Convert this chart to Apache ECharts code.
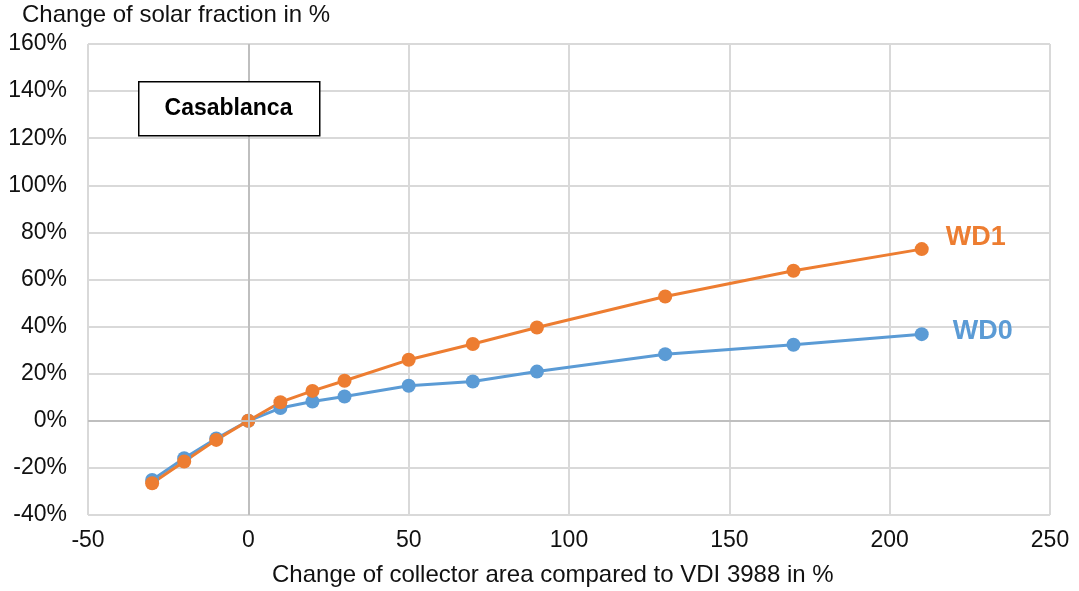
<!DOCTYPE html>
<html>
<head>
    <meta charset="utf-8" />
    <title>Casablanca</title>
    <script src="https://cdn.jsdelivr.net/npm/echarts@6/dist/echarts.min.js"></script>
    <style>
        html, body { margin: 0; padding: 0; background: #fff; }
    </style>
</head>
<body>
    <div id="main" style="width:1079px;height:591px;"></div>
    <script type="text/javascript">
        // collector area change in % (x)
        var areaChange = [-30, -20, -10, 0, 10, 20, 30, 50, 70, 90, 130, 170, 210];
        // solar fraction change in %
        var wd0 = [-25.1, -15.9, -7.5, 0, 5.4, 8.2, 10.3, 14.9, 16.7, 20.9, 28.3, 32.3, 36.8];
        var wd1 = [-26.5, -17.3, -8.1, 0, 7.9, 12.7, 17.0, 25.9, 32.6, 39.6, 52.8, 63.7, 72.9];
        var seriesNames = ['WD0', 'WD1'];
        var colors = ['#5B9BD5', '#ED7D31'];

        function pairs(ys) {
            var out = [];
            for (var i = 0; i < areaChange.length; i++) out.push([areaChange[i], ys[i]]);
            return out;
        }

        var font = 'Liberation Sans, Arial, sans-serif';
        var myChart = echarts.init(document.getElementById('main'));

        function makeSeries(name, ys, color, labelDist, labelOffset) {
            var data = pairs(ys);
            var last = data.length - 1;
            data[last] = {
                value: data[last],
                label: {
                    show: true,
                    position: 'right',
                    distance: labelDist,
                    offset: labelOffset,
                    formatter: name,
                    color: color,
                    fontFamily: font,
                    fontWeight: 'bold',
                    fontSize: 27
                }
            };
            return {
                name: name,
                type: 'line',
                data: data,
                symbol: 'circle',
                symbolSize: 14,
                lineStyle: { color: color, width: 3 },
                itemStyle: { color: color },
                emphasis: { disabled: true },
                animation: false
            };
        }

        var s0 = makeSeries(seriesNames[0], wd0, colors[0], 24, [0, -3]);
        var s1 = makeSeries(seriesNames[1], wd1, colors[1], 17, [0, -12]);
        // darker lines through zero, like the chart's own axes
        s0.markLine = {
            silent: true,
            symbol: 'none',
            label: { show: false },
            lineStyle: { color: '#bfbfbf', width: 2, type: 'solid' },
            data: [{ xAxis: 0 }, { yAxis: 0 }],
            animation: false
        };

        myChart.setOption({
            backgroundColor: '#fff',
            grid: { left: 88, right: 29, top: 44, bottom: 76 },
            xAxis: {
                type: 'value',
                min: -50,
                max: 250,
                interval: 50,
                axisLine: { show: false },
                axisTick: { show: false },
                axisLabel: { color: '#111', fontFamily: font, fontSize: 23, margin: 14 },
                splitLine: { show: true, lineStyle: { color: '#d9d9d9', width: 2 } }
            },
            yAxis: {
                type: 'value',
                min: -40,
                max: 160,
                interval: 20,
                axisLine: { show: false },
                axisTick: { show: false },
                axisLabel: {
                    color: '#111', fontFamily: font, fontSize: 23, margin: 21,
                    formatter: '{value}%'
                },
                splitLine: { show: true, lineStyle: { color: '#d9d9d9', width: 2 } }
            },
            graphic: [
                {
                    type: 'text', left: 22, top: 3,
                    style: { text: 'Change of solar fraction in %', fill: '#111', font: '24px ' + font }
                },
                {
                    type: 'text', left: 272, top: 563,
                    style: { text: 'Change of collector area compared to VDI 3988 in %', fill: '#111', font: '24px ' + font }
                },
                {
                    type: 'rect', left: 138, top: 81, z: 10,
                    shape: { width: 181, height: 54 },
                    style: { fill: '#fff', stroke: '#000', lineWidth: 1.5 }
                },
                {
                    type: 'text', z: 11, x: 228.5, y: 109,
                    style: {
                        text: 'Casablanca', fill: '#000', font: 'bold 23px ' + font,
                        align: 'center', verticalAlign: 'middle'
                    }
                }
            ],
            series: [s0, s1]
        });
    </script>
</body>
</html>
